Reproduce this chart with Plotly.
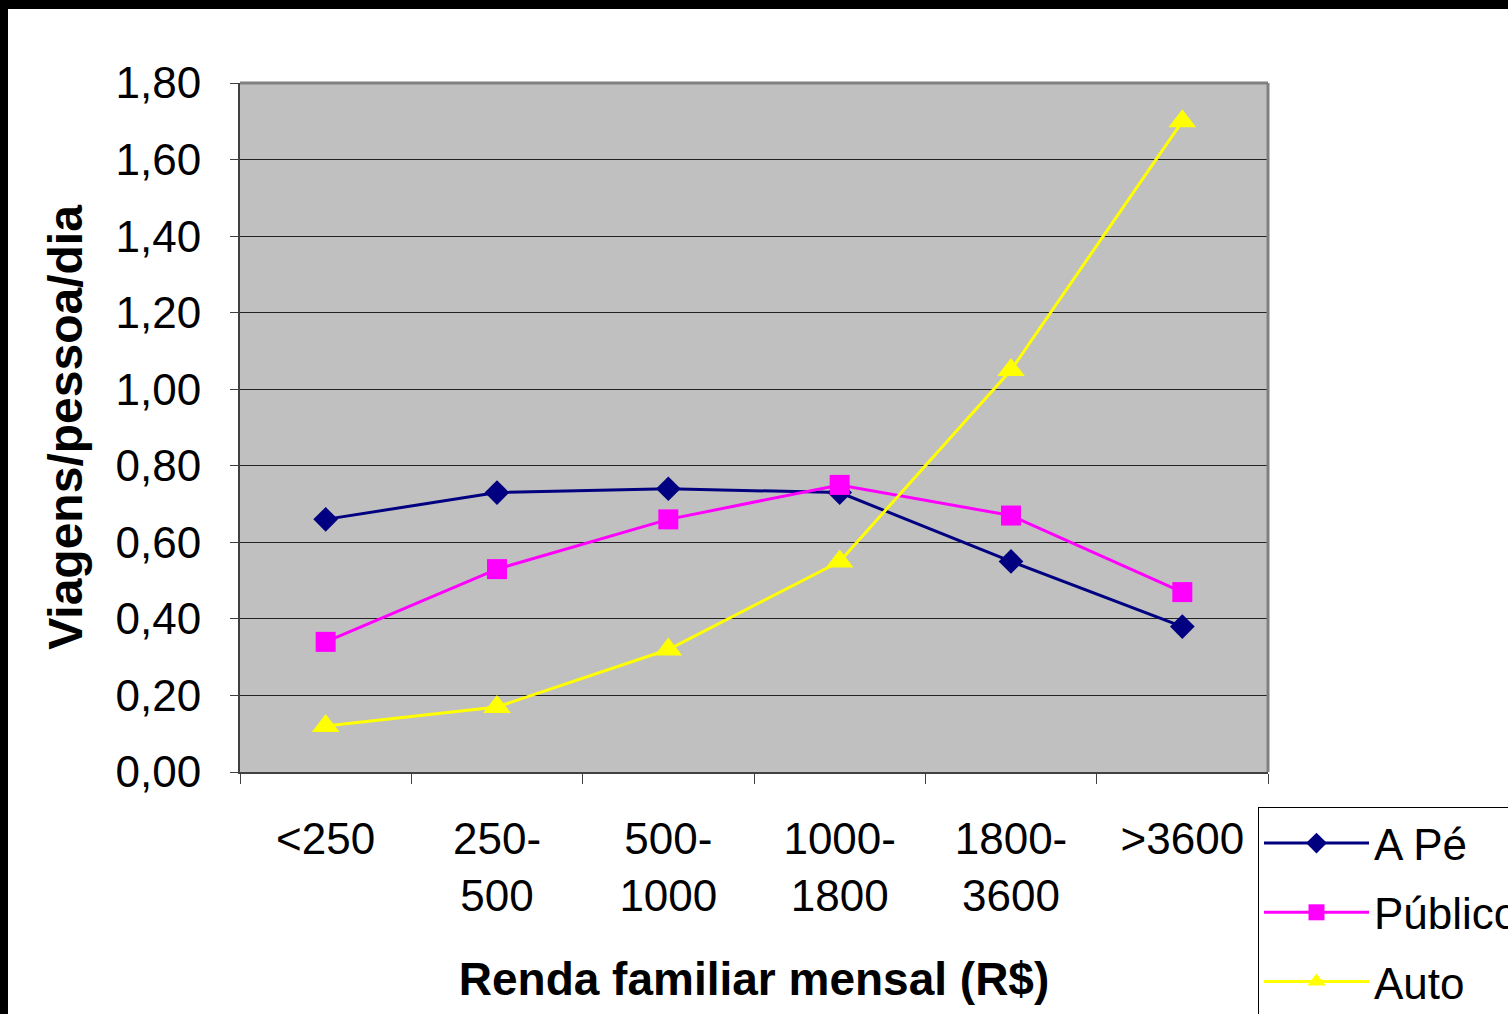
import plotly.graph_objects as go

categories = ["<250", "250-500", "500-1000", "1000-1800", "1800-3600", ">3600"]
tick_labels = ["&lt;250", "250-<br>500", "500-<br>1000", "1000-<br>1800", "1800-<br>3600", "&gt;3600"]
a_pe = [0.66, 0.73, 0.74, 0.73, 0.55, 0.38]
publico = [0.34, 0.53, 0.66, 0.75, 0.67, 0.47]
auto = [0.12, 0.17, 0.32, 0.55, 1.05, 1.70]
y_ticks = [0.0, 0.2, 0.4, 0.6, 0.8, 1.0, 1.2, 1.4, 1.6, 1.8]

W, H = 1508, 1014
L, R, T, B = 240, 240, 83, 242
pw, ph = W - L - R, H - T - B

def px(x):
    return (x - L) / pw

def py(y):
    return (H - B - y) / ph

fig = go.Figure()
fig.add_trace(go.Scatter(x=categories, y=a_pe, name="A Pé", mode="lines+markers",
                         legendgroup="a", line=dict(color="#000080", width=3),
                         marker=dict(symbol="diamond", size=19, color="#000080")))
fig.add_trace(go.Scatter(x=categories, y=publico, name="Público", mode="lines+markers",
                         legendgroup="p", line=dict(color="#FF00FF", width=3),
                         marker=dict(symbol="square", size=20, color="#FF00FF")))
fig.add_trace(go.Scatter(x=categories, y=auto, name="Auto", mode="lines+markers",
                         legendgroup="u", line=dict(color="#FFFF00", width=3),
                         marker=dict(symbol="triangle-up", size=24, color="#FFFF00")))

font_family = "Liberation Sans, Arial, sans-serif"

fig.update_layout(
    width=W, height=H,
    margin=dict(l=L, r=R, t=T, b=B, autoexpand=False),
    paper_bgcolor="white",
    plot_bgcolor="#C0C0C0",
    separators=",.",
    font=dict(family=font_family, size=44, color="black"),
    showlegend=True,
    legend=dict(x=px(1258), y=py(807), xanchor="left", yanchor="top",
                bgcolor="white", bordercolor="black", borderwidth=1,
                font=dict(size=44), tracegroupgap=9, itemwidth=105),
    xaxis=dict(
        type="category", categoryorder="array", categoryarray=categories,
        tickvals=categories, ticktext=tick_labels,
        tickson="boundaries", ticks="outside", ticklen=10, tickcolor="#404040",
        showgrid=False, showline=True, linecolor="#404040", linewidth=2,
        mirror=False, ticklabelstandoff=27,
        title=dict(text="<b>Renda familiar mensal (R$)</b>", font=dict(size=46), standoff=44),
        range=[-0.5, 5.5],
    ),
    yaxis=dict(
        range=[0, 1.8], tickvals=y_ticks, tickformat=".2f",
        ticks="outside", ticklen=8, tickcolor="#404040",
        showgrid=True, gridcolor="#222222", gridwidth=1,
        showline=True, linecolor="#404040", linewidth=2,
        ticklabelstandoff=20, zeroline=False,
        title=dict(text="<b>Viagens/pessoa/dia</b>", font=dict(size=48), standoff=18),
    ),
)

# plot frame (top & right, gray)
fig.add_shape(type="line", xref="paper", yref="paper", x0=0, x1=1, y0=1, y1=1,
              line=dict(color="#808080", width=3))
fig.add_shape(type="line", xref="paper", yref="paper", x0=1, x1=1, y0=0, y1=1,
              line=dict(color="#808080", width=3))
# black border at top and left of image
fig.add_shape(type="rect", xref="paper", yref="paper", x0=px(-5), x1=px(W + 5), y0=py(9), y1=py(-5),
              fillcolor="black", line=dict(width=0), layer="above")
fig.add_shape(type="rect", xref="paper", yref="paper", x0=px(-5), x1=px(8), y0=py(H + 5), y1=py(-5),
              fillcolor="black", line=dict(width=0), layer="above")

fig.write_html("out.html", config={"displayModeBar": False},
               post_script="document.body.style.margin='0';document.body.style.overflow='hidden';")
